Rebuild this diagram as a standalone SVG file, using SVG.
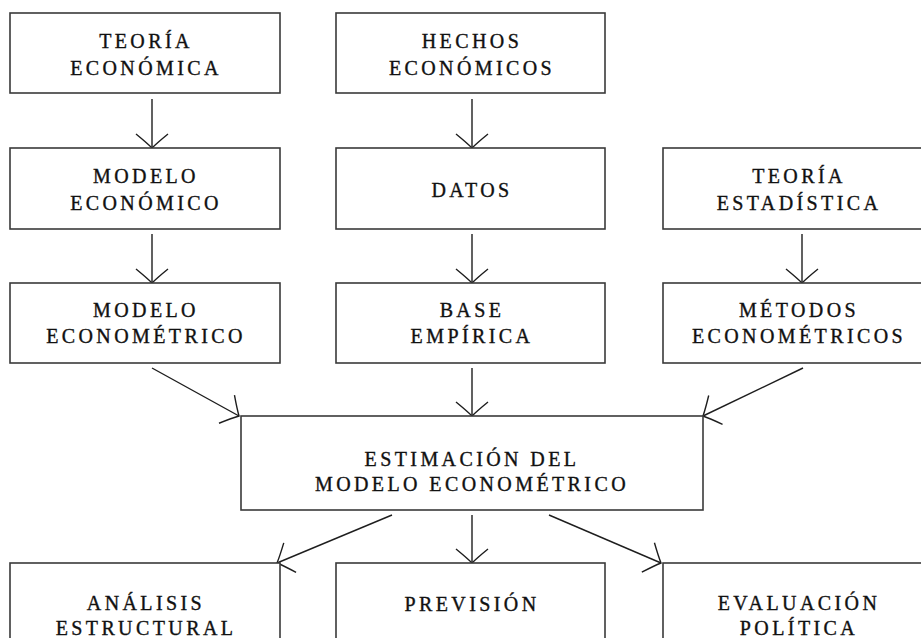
<svg xmlns="http://www.w3.org/2000/svg" width="921" height="638" viewBox="0 0 921 638">
<style>
.box{fill:#fff;stroke:#3a3a3a;stroke-width:1.6}
.t{font-family:"Liberation Serif","Times New Roman",serif;font-size:20px;letter-spacing:3.4px;fill:#111;stroke:#111;stroke-width:0.35px;text-anchor:middle}
.c{fill:none;stroke:#1e1e1e;stroke-width:1.4}
</style>
<defs>
<marker id="ah" viewBox="-18 -20 20 40" markerWidth="20" markerHeight="40" refX="0" refY="0" orient="auto" markerUnits="userSpaceOnUse" overflow="visible">
<path d="M -14,-16 Q -5,-5 0,0 Q -5,5 -14,16" fill="none" stroke="#1e1e1e" stroke-width="1.4"/>
</marker>
</defs>
<rect width="921" height="638" fill="#fff"/>
<g id="connectors">
<line class="c" x1="152" y1="99" x2="152" y2="148" marker-end="url(#ah)"/>
<line class="c" x1="472" y1="99" x2="472" y2="148" marker-end="url(#ah)"/>
<line class="c" x1="152" y1="234" x2="152" y2="283" marker-end="url(#ah)"/>
<line class="c" x1="472" y1="234" x2="472" y2="283" marker-end="url(#ah)"/>
<line class="c" x1="802" y1="234" x2="802" y2="283" marker-end="url(#ah)"/>
<line class="c" x1="152" y1="368" x2="239" y2="416" marker-end="url(#ah)"/>
<line class="c" x1="472" y1="368" x2="472" y2="416" marker-end="url(#ah)"/>
<line class="c" x1="803" y1="368" x2="703" y2="416" marker-end="url(#ah)"/>
<line class="c" x1="392" y1="515" x2="277" y2="563" marker-end="url(#ah)"/>
<line class="c" x1="472" y1="515" x2="472" y2="563" marker-end="url(#ah)"/>
<line class="c" x1="549" y1="515" x2="661" y2="563" marker-end="url(#ah)"/>
</g>
<g id="teoria-economica">
<rect class="box" x="10" y="13" width="270" height="80"/>
<text class="t" x="146" y="48">TEORÍA</text>
<text class="t" x="146" y="75">ECONÓMICA</text>
</g>
<g id="hechos-economicos">
<rect class="box" x="336" y="13" width="269" height="80"/>
<text class="t" x="472" y="48">HECHOS</text>
<text class="t" x="472" y="75">ECONÓMICOS</text>
</g>
<g id="modelo-economico">
<rect class="box" x="10" y="148" width="270" height="81"/>
<text class="t" x="146" y="183">MODELO</text>
<text class="t" x="146" y="210">ECONÓMICO</text>
</g>
<g id="datos">
<rect class="box" x="336" y="148" width="269" height="81"/>
<text class="t" x="472" y="197">DATOS</text>
</g>
<g id="teoria-estadistica">
<rect class="box" x="663" y="148" width="270" height="81"/>
<text class="t" x="799" y="183">TEORÍA</text>
<text class="t" x="799" y="210">ESTADÍSTICA</text>
</g>
<g id="modelo-econometrico">
<rect class="box" x="10" y="283" width="270" height="80"/>
<text class="t" x="146" y="317">MODELO</text>
<text class="t" x="146" y="343">ECONOMÉTRICO</text>
</g>
<g id="base-empirica">
<rect class="box" x="336" y="283" width="269" height="80"/>
<text class="t" x="472" y="317">BASE</text>
<text class="t" x="472" y="343">EMPÍRICA</text>
</g>
<g id="metodos-econometricos">
<rect class="box" x="663" y="283" width="270" height="80"/>
<text class="t" x="799" y="317">MÉTODOS</text>
<text class="t" x="799" y="343">ECONOMÉTRICOS</text>
</g>
<g id="estimacion">
<rect class="box" x="241" y="416" width="462" height="94"/>
<text class="t" x="472" y="466">ESTIMACIÓN DEL</text>
<text class="t" x="472" y="491">MODELO ECONOMÉTRICO</text>
</g>
<g id="analisis-estructural">
<rect class="box" x="10" y="563" width="270" height="90"/>
<text class="t" x="146" y="610">ANÁLISIS</text>
<text class="t" x="146" y="635">ESTRUCTURAL</text>
</g>
<g id="prevision">
<rect class="box" x="336" y="563" width="269" height="90"/>
<text class="t" x="472" y="611">PREVISIÓN</text>
</g>
<g id="evaluacion-politica">
<rect class="box" x="663" y="563" width="270" height="90"/>
<text class="t" x="799" y="610">EVALUACIÓN</text>
<text class="t" x="799" y="635">POLÍTICA</text>
</g>
</svg>
